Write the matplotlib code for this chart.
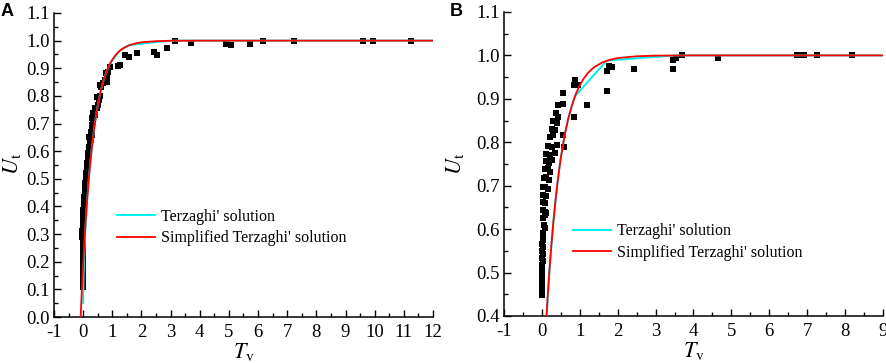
import numpy as np
import matplotlib
matplotlib.use('Agg')
import matplotlib.pyplot as plt
from matplotlib.ticker import MultipleLocator, FormatStrFormatter

plt.rcParams['font.family'] = 'Liberation Serif'
plt.rcParams['mathtext.fontset'] = 'stix'
plt.rcParams['axes.unicode_minus'] = False

# panel A measured points
a_tv = [0.92, 0.86, 0.78, 0.83, 0.75, 0.83, 0.69, 0.58, 0.63, 0.46, 0.58, 0.55, 0.50, 0.40, 0.46,
        0.35, 0.40, 0.32, 0.35, 0.29, 0.32, 0.26, 0.21, 0.30,
        1.20, 1.26, 1.43, 1.57, 1.86, 2.43, 2.52, 2.86, 3.15, 3.70, 4.90, 5.07, 5.72, 6.18, 7.24,
        9.59, 9.93, 11.24,
        0.26, 0.23, 0.21, 0.20, 0.18, 0.17, 0.16, 0.15, 0.13, 0.12, 0.11, 0.10, 0.09, 0.08, 0.07,
        0.06, 0.05, 0.04, 0.03, 0.03, 0.02, 0.01, 0.00, -0.01, 0.01, -0.01, -0.02, 0.00, -0.03,
        -0.02, -0.03, -0.02, -0.01, -0.02, -0.01, -0.01, 0.00, -0.01, 0.00, 0.00, 0.01, 0.00,
        0.01, 0.01, 0.01, 0.01]
a_u = [0.903, 0.888, 0.882, 0.869, 0.857, 0.851, 0.845, 0.839, 0.833, 0.797, 0.800, 0.785, 0.767,
       0.755, 0.757, 0.737, 0.731, 0.719, 0.707, 0.695, 0.683, 0.670, 0.652, 0.660,
       0.908, 0.911, 0.947, 0.942, 0.956, 0.960, 0.948, 0.972, 0.998, 0.990, 0.988, 0.983, 0.989,
       1.000, 1.000, 1.000, 1.000, 1.000,
       0.640, 0.628, 0.616, 0.604, 0.592, 0.580, 0.568, 0.556, 0.544, 0.532, 0.520, 0.508, 0.496,
       0.484, 0.472, 0.460, 0.448, 0.436, 0.424, 0.412, 0.400, 0.388, 0.376, 0.364, 0.356, 0.345,
       0.334, 0.322, 0.312, 0.300, 0.288, 0.276, 0.264, 0.252, 0.240, 0.228, 0.216, 0.204, 0.192,
       0.180, 0.168, 0.156, 0.144, 0.132, 0.120, 0.110]

# panel B measured points
b_tv = [0.43, 0.56, 0.37, 0.43, 0.30, 0.41, 0.28, 0.34, 0.21, 0.30, 0.55, 0.17, 0.26, 0.41, 0.58,
        0.12, 0.21, 0.34, 0.10, 0.18, 0.26, 0.09, 0.16, 0.22, 0.06, 0.12, 0.18, 0.04, 0.09, 0.15,
        0.04, 0.11, 0.04, 0.09, 0.02, 0.07, 0.12, 0.04, 0.09, 0.06, 0.07, 0.04,
        0.02, 0.03, 0.01, 0.02, 0.01, 0.02, 0.00, 0.02, 0.01, 0.00, 0.01, 0.00, 0.01, 0.00, 0.01,
        0.00, 0.00, 0.00,
        0.56, 0.85, 0.87, 0.85, 0.96, 1.18, 1.72, 1.71, 1.77, 1.84, 2.42, 3.45, 3.54, 3.70, 3.47,
        4.65, 6.72, 6.79, 6.92, 7.25, 8.19]
b_u = [0.886, 0.888, 0.868, 0.859, 0.848, 0.844, 0.830, 0.829, 0.812, 0.817, 0.817, 0.792, 0.790,
       0.794, 0.789, 0.773, 0.771, 0.775, 0.756, 0.753, 0.759, 0.738, 0.740, 0.732, 0.717, 0.720,
       0.713, 0.698, 0.697, 0.692, 0.679, 0.676, 0.663, 0.660, 0.644, 0.640, 0.637, 0.625, 0.633,
       0.610, 0.602, 0.591,
       0.582, 0.574, 0.566, 0.558, 0.550, 0.542, 0.534, 0.526, 0.518, 0.510, 0.502, 0.494, 0.486,
       0.478, 0.470, 0.462, 0.455, 0.448,
       0.913, 0.858, 0.944, 0.932, 0.932, 0.886, 0.918, 0.965, 0.976, 0.974, 0.969, 0.990, 0.995,
       1.000, 0.969, 0.995, 1.000, 1.000, 1.000, 1.000, 1.000]

# Terzaghi' solution curves
terz_a_tv = [0.002, 0.005, 0.01, 0.02, 0.03, 0.05, 0.08, 0.12, 0.16, 0.2, 0.3, 0.4, 0.5, 0.6, 0.7,
             0.8, 0.92, 1.26, 1.58, 2.86, 3.15, 12.0]
terz_a_u = [0.050, 0.080, 0.113, 0.160, 0.195, 0.252, 0.319, 0.391, 0.451, 0.505, 0.613, 0.698,
            0.764, 0.816, 0.856, 0.887, 0.916, 0.964, 0.984, 0.999, 1.000, 1.000]
terz_b_tv = [0.11, 0.2, 0.3, 0.4, 0.5, 0.6, 0.7, 0.873, 1.71, 3.5, 9.0]
terz_b_u = [0.374, 0.505, 0.613, 0.698, 0.764, 0.816, 0.856, 0.906, 0.988, 1.000, 1.000]

# simplified Terzaghi' solution
simp_tv = [-0.085, -0.05, 0.0, 0.05, 0.1, 0.15, 0.2, 0.25, 0.3, 0.35, 0.4, 0.45, 0.5, 0.6, 0.7,
           0.8, 0.9, 1.0, 1.1, 1.2, 1.3, 1.4, 1.6, 1.8, 2.0, 2.5, 3.0, 4.0, 12.0]
simp_u = [0.0, 0.083, 0.189, 0.284, 0.367, 0.440, 0.505, 0.563, 0.613, 0.658, 0.698, 0.733, 0.764,
          0.816, 0.856, 0.887, 0.912, 0.931, 0.946, 0.958, 0.967, 0.974, 0.984, 0.990, 0.994,
          0.998, 0.9995, 1.0, 1.0]

W, H = 886, 363
fig = plt.figure(figsize=(W / 100, H / 100), dpi=100)
axA = fig.add_axes([0.0609, 0.1267, 0.4278, 0.8375])
axB = fig.add_axes([0.5688, 0.1295, 0.4278, 0.8375])

# (axes, scatter x/y, terzaghi x/y, xlim, ylim, tag, legend anchor, tag px, ylabel px)
panels = [
    (axA, a_tv, a_u, terz_a_tv, terz_a_u, (-1, 12), (0.0, 1.1), 'A', (0.166, 0.294), 1, 12),
    (axB, b_tv, b_u, terz_b_tv, terz_b_u, (-1, 9), (0.4, 1.1), 'B', (0.182, 0.243), 450, 455),
]

for ax, tv, u, ttv, tu, xl, yl, tag, leg_at, tag_px, ylab_px in panels:
    ax.scatter(tv, u, marker='s', s=14, color='black', linewidths=0, zorder=2)
    ax.plot(ttv, tu, color='#00f0f0', lw=1.4, label="Terzaghi' solution", zorder=3)
    ax.plot(simp_tv, simp_u, color='#ff0000', lw=1.3, label="Simplified Terzaghi' solution", zorder=4)
    ax.set_xlim(*xl)
    ax.set_ylim(*yl)
    ax.xaxis.set_major_locator(MultipleLocator(1))
    ax.xaxis.set_minor_locator(MultipleLocator(0.5))
    ax.yaxis.set_major_locator(MultipleLocator(0.1))
    ax.yaxis.set_minor_locator(MultipleLocator(0.05))
    ax.yaxis.set_major_formatter(FormatStrFormatter('%.1f'))
    ax.spines['top'].set_visible(False)
    ax.spines['right'].set_visible(False)
    for s in ('left', 'bottom'):
        ax.spines[s].set_linewidth(1.1)
    ax.tick_params(which='major', direction='in', length=5, width=1, labelsize=13.5, pad=3)
    ax.tick_params(which='minor', direction='in', length=3, width=1)
    ax.tick_params(axis='x', which='major', pad=5)
    ax.set_xlabel(r'$T_{\mathrm{v}}$', fontsize=16)
    ax.xaxis.set_label_coords(0.5, -0.08)
    ax.legend(loc='center left', bbox_to_anchor=leg_at, frameon=False, fontsize=11.5,
              handlelength=2.4, handletextpad=0.35, borderpad=0, borderaxespad=0,
              labelspacing=0.35)
    fig.text(ylab_px / W, 1 - 164 / H, r'$U_{\mathrm{t}}$', fontsize=16, rotation=90,
             ha='center', va='center')
    fig.text(tag_px / W, 1 - 12 / H, tag, fontsize=13, fontweight='bold',
             family='Liberation Sans', ha='left', va='center')

fig.savefig('out.png', dpi=100)
